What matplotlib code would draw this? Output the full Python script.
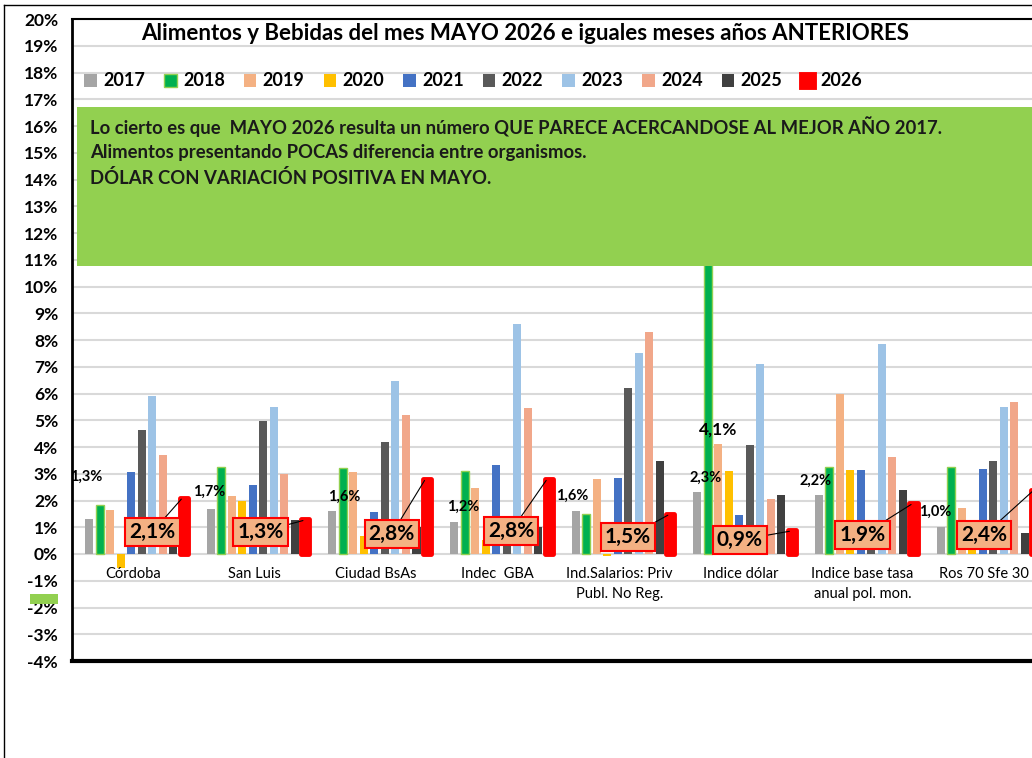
import matplotlib.pyplot as plt
import numpy as np
from matplotlib.patches import Rectangle
from matplotlib.lines import Line2D

plt.rcParams['font.family'] = ['Lato', 'DejaVu Sans']

# ---- data ----
categories = ['Córdoba', 'San Luis', 'Ciudad BsAs', 'Indec  GBA',
              'Ind.Salarios: Priv\nPubl. No Reg.', 'Indice dólar',
              'Indice base tasa\nanual pol. mon.', 'Ros 70 Sfe 30']
years = ['2017', '2018', '2019', '2020', '2021', '2022', '2023', '2024', '2025', '2026']

v2017 = [1.3, 1.7, 1.6, 1.2, 1.6, 2.3, 2.2, 1.0]
v2018 = [1.85, 3.24, 3.2, 3.1, 1.5, 13.0, 3.27, 3.24]
v2019 = [1.64, 2.15, 3.05, 2.46, 2.8, 4.1, 5.97, 1.71]
v2020 = [-0.52, 2.0, 0.68, 0.52, -0.08, 3.1, 3.14, 0.8]
v2021 = [3.06, 2.58, 1.57, 3.32, 2.84, 1.46, 3.14, 3.18]
v2022 = [4.63, 4.97, 4.2, 0.9, 6.2, 4.07, 1.0, 3.46]
v2023 = [5.9, 5.51, 6.47, 8.6, 7.5, 7.1, 7.84, 5.48]
v2024 = [3.69, 2.98, 5.18, 5.44, 8.3, 2.04, 3.63, 5.68]
v2025 = [1.2, 1.27, 1.0, 1.0, 3.47, 2.2, 2.4, 0.8]
v2026 = [2.1, 1.3, 2.8, 2.8, 1.5, 0.9, 1.9, 2.4]

series = [v2017, v2018, v2019, v2020, v2021, v2022, v2023, v2024, v2025, v2026]
colors = ['#A5A5A5', '#00B050', '#F4B183', '#FFC000', '#4472C4',
          '#595959', '#9DC3E6', '#F1A78A', '#404040', '#FF0000']

note = ("Lo cierto es que  MAYO 2026 resulta un número QUE PARECE ACERCANDOSE AL MEJOR AÑO 2017.\n"
        "Alimentos presentando POCAS diferencia entre organismos.\n"
        "DÓLAR CON VARIACIÓN POSITIVA EN MAYO.")

# label placement (offsets from group centre, in data units)
box_dx = [0.16, 0.05, 0.13, 0.11, 0.07, -0.01, 0.0, 0.0]
box_y = [0.82, 0.82, 0.75, 0.86, 0.63, 0.52, 0.71, 0.71]
small_dx = [-0.38, -0.37, -0.26, -0.28, -0.39, -0.29, -0.39, -0.40]
small_y = [2.87, 2.31, 2.13, 1.75, 2.16, 2.84, 2.72, 1.57]

W, H = 1032, 758
fig = plt.figure(figsize=(W / 100, H / 100), dpi=100)
ax = fig.add_axes([72 / W, 97 / H, 973 / W, 642 / H])

x = np.arange(len(categories))
slot = 0.0864
bw = 0.066
bars = []
for k, (vals, c) in enumerate(zip(series, colors)):
    pos = x + (k - 4.5) * slot + 0.03
    if years[k] == '2026':
        b = ax.bar(pos, vals, bw, color=c, edgecolor=c, linewidth=3.5,
                   joinstyle='round', label=years[k], zorder=3)
    elif years[k] == '2018':
        b = ax.bar(pos, vals, bw, color=c, edgecolor='#92D050', linewidth=1,
                   label=years[k], zorder=3)
    else:
        b = ax.bar(pos, vals, bw, color=c, label=years[k], zorder=3)
    bars.append(b)

ax.set_xlim(-0.5, 7.5)
ax.set_ylim(-4, 20)
ax.set_yticks(range(-4, 21))
ax.set_yticklabels([f'{t}%' for t in range(-4, 21)], fontsize=12.5, fontweight='bold')
ax.tick_params(axis='y', length=0, pad=10)
ax.set_xticks([])
ax.set_axisbelow(True)
ax.grid(axis='y', color='#D9D9D9', linewidth=1.5)
ax.spines['left'].set_linewidth(2)
ax.spines['bottom'].set_linewidth(3)
ax.spines['top'].set_linewidth(1.5)
ax.spines['right'].set_visible(False)

# category labels just below zero
for i, cat in enumerate(categories):
    ax.text(i, -0.5, cat, ha='center', va='top', fontsize=10.5, linespacing=1.5)

# small labels (2017 values)
for i in range(len(categories)):
    ax.text(i + small_dx[i], small_y[i], f'{v2017[i]:.1f}%'.replace('.', ','),
            ha='center', va='center', fontsize=10.5, fontweight='bold', zorder=5)
ax.text(5 - 0.19, 4.66, f'{v2019[5]:.1f}%'.replace('.', ','), ha='center',
        va='center', fontsize=12.5, fontweight='bold', zorder=5)

# 2026 boxed labels
for i in range(len(categories)):
    bx = x[i] + 4.5 * slot + 0.03
    ax.annotate(f'{v2026[i]:.1f}%'.replace('.', ','),
                xy=(bx - 0.02, v2026[i] - 0.05), xytext=(i + box_dx[i], box_y[i]),
                ha='center', va='center', fontsize=15, fontweight='bold', zorder=6,
                bbox=dict(boxstyle='square,pad=0.2', fc='#F4B183', ec='#FF0000', lw=1.5),
                arrowprops=dict(arrowstyle='-', color='black', lw=0.8,
                                shrinkA=0, shrinkB=0))

# green note box
ax.add_patch(Rectangle((-0.459, 10.77), 9, 5.95, facecolor='#92D050',
                       edgecolor='none', zorder=7, clip_on=False))
ax.text(-0.352, 16.35, note, ha='left', va='top', fontsize=13.3,
        fontweight='bold', color='#1a1a1a', linespacing=1.5, zorder=8)

fig.text(525 / W, 1 - 34 / H, 'Alimentos y Bebidas del mes MAYO 2026 e iguales meses años ANTERIORES',
         ha='center', va='center', fontsize=16, fontweight='bold')

fig.legend(handles=bars, labels=years, loc='center left',
           bbox_to_anchor=(68 / W, 1 - 81 / H), ncol=10, frameon=False,
           prop={'weight': 'bold', 'size': 13}, handlelength=0.7,
           handleheight=0.7, handletextpad=0.35, columnspacing=1.05)

# outer chart border and stray shape
fig.add_artist(Line2D([4 / W, 4 / W], [0, 1 - 5 / H], color='black', lw=1))
fig.add_artist(Line2D([4 / W, 1], [1 - 5 / H, 1 - 5 / H], color='black', lw=1))
fig.add_artist(Rectangle((30 / W, 1 - 604 / H), 28 / W, 10 / H,
                         transform=fig.transFigure, facecolor='#92D050', zorder=10))

plt.savefig('out.png', dpi=100)
